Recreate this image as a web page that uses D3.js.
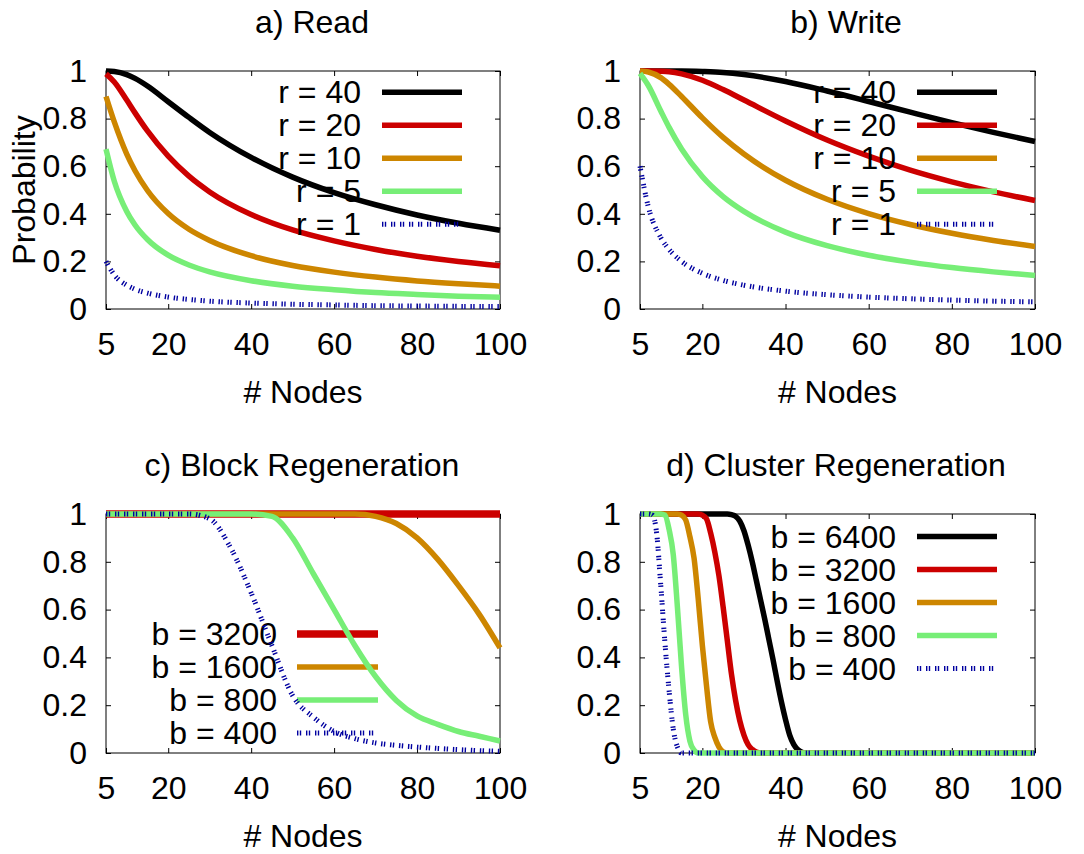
<!DOCTYPE html>
<html>
<head>
<meta charset="utf-8">
<script src="https://cdn.jsdelivr.net/npm/d3@7"></script>
<style>
  html, body { margin:0; padding:0; background:#fff; }
  svg { display:block; }
</style>
</head>
<body>
<script>
(function(){
/* ===================== DATA ===================== */
const X_TICKS = [5, 20, 40, 60, 80, 100];
const Y_TICKS = [0, 0.2, 0.4, 0.6, 0.8, 1];

// a) Read + b) Write share the node counts
const NODES_RW = [5, 7, 10, 12, 15, 20, 25, 30, 40, 50, 60, 70, 80, 90, 100];

const READ_R40 = [1.000, 0.998, 0.985, 0.969, 0.937, 0.871, 0.805, 0.742, 0.637, 0.554, 0.489, 0.438, 0.395, 0.360, 0.331];
const READ_R20 = [0.988, 0.954, 0.878, 0.824, 0.748, 0.642, 0.558, 0.492, 0.397, 0.332, 0.286, 0.250, 0.222, 0.200, 0.182];
const READ_R10 = [0.893, 0.786, 0.651, 0.581, 0.498, 0.401, 0.335, 0.288, 0.224, 0.183, 0.155, 0.134, 0.118, 0.106, 0.096];
const READ_R5  = [0.672, 0.537, 0.410, 0.353, 0.292, 0.226, 0.185, 0.156, 0.119, 0.096, 0.081, 0.069, 0.061, 0.054, 0.049];
const READ_R1  = [0.200, 0.143, 0.100, 0.083, 0.067, 0.050, 0.040, 0.033, 0.025, 0.020, 0.017, 0.014, 0.0125, 0.011, 0.010];

const WRITE_R40 = [1.000, 1.000, 1.000, 1.000, 1.000, 0.998, 0.994, 0.985, 0.956, 0.916, 0.872, 0.827, 0.783, 0.742, 0.704];
const WRITE_R20 = [1.000, 1.000, 0.999, 0.997, 0.988, 0.961, 0.922, 0.878, 0.790, 0.710, 0.642, 0.583, 0.534, 0.492, 0.456];
const WRITE_R10 = [1.000, 0.996, 0.972, 0.944, 0.893, 0.803, 0.721, 0.651, 0.541, 0.461, 0.401, 0.355, 0.318, 0.288, 0.263];
const WRITE_R5  = [0.990, 0.939, 0.832, 0.763, 0.672, 0.556, 0.472, 0.410, 0.323, 0.266, 0.226, 0.197, 0.174, 0.156, 0.141];
const WRITE_R1  = [0.600, 0.429, 0.300, 0.250, 0.200, 0.150, 0.120, 0.100, 0.075, 0.060, 0.050, 0.043, 0.0375, 0.033, 0.030];

// c) Block Regeneration
const NODES_BLOCK = [5, 10, 15, 20, 25, 30, 35, 40, 45, 50, 55, 60, 65, 70, 75, 80, 85, 90, 95, 100];
const BLOCK_B3200 = [1, 1, 1, 1, 1, 1, 1, 1, 1, 1, 1, 1, 1, 1, 1, 1, 1, 1, 1, 1];
const BLOCK_B1600 = [1, 1, 1, 1, 1, 1, 1, 1, 1, 1, 1, 1, 1, 0.99, 0.96, 0.90, 0.81, 0.70, 0.58, 0.44];
const BLOCK_B800  = [1, 1, 1, 1, 1, 1, 1, 1, 0.99, 0.90, 0.75, 0.60, 0.45, 0.32, 0.22, 0.155, 0.12, 0.09, 0.07, 0.05];
const BLOCK_B400  = [1, 1, 1, 1, 1, 0.98, 0.86, 0.67, 0.45, 0.24, 0.15, 0.09, 0.06, 0.042, 0.032, 0.025, 0.019, 0.014, 0.010, 0.007];

// d) Cluster Regeneration (each curve has its own node samples)
const CLU_N_6400 = [5, 26, 27, 28, 29, 30, 31, 32, 33, 34, 35, 36, 37, 38, 39, 40, 41, 42, 43, 44, 45, 100];
const CLU_B6400  = [1, 1, 0.997, 0.99, 0.97, 0.93, 0.87, 0.80, 0.72, 0.64, 0.56, 0.475, 0.39, 0.30, 0.215, 0.14, 0.075, 0.035, 0.013, 0.003, 0, 0];
const CLU_N_3200 = [5, 19, 20, 21, 22, 23, 24, 25, 26, 27, 28, 29, 30, 31, 32, 33, 34, 100];
const CLU_B3200  = [1, 1, 0.995, 0.98, 0.92, 0.84, 0.74, 0.61, 0.47, 0.33, 0.22, 0.135, 0.075, 0.035, 0.015, 0.004, 0, 0];
const CLU_N_1600 = [5, 14, 15, 16, 17, 18, 19, 20, 21, 22, 23, 24, 25, 26, 100];
const CLU_B1600  = [1, 1, 0.995, 0.975, 0.905, 0.815, 0.645, 0.45, 0.28, 0.13, 0.065, 0.025, 0.005, 0, 0];
const CLU_N_800  = [5, 10, 11, 12, 13, 14, 15, 16, 17, 18, 19, 100];
const CLU_B800   = [1, 1, 0.995, 0.935, 0.83, 0.61, 0.36, 0.16, 0.05, 0.012, 0, 0];
const CLU_N_400  = [5, 7, 8, 9, 10, 11, 12, 13, 14, 15, 100];
const CLU_B400   = [1, 1, 0.995, 0.92, 0.70, 0.46, 0.26, 0.10, 0.025, 0, 0];

/* ===================== STYLE ===================== */
const FONT = "'Liberation Sans', Arial, Helvetica, sans-serif";
const FS = 32;
const C = { black:"#000000", red:"#cc0000", orange:"#cd8600", green:"#77ee77", blue:"#0000a0" };

const PANELS = [
  { title:"a) Read", titleX:312, box:{l:106, r:500, t:71, b:309}, ylab:true,
    leg:{x:361, l0:382, l1:462, y0:92.3},
    series:[
      {label:"r = 40", color:C.black,  n:NODES_RW, p:READ_R40},
      {label:"r = 20", color:C.red,    n:NODES_RW, p:READ_R20},
      {label:"r = 10", color:C.orange, n:NODES_RW, p:READ_R10},
      {label:"r = 5",  color:C.green,  n:NODES_RW, p:READ_R5},
      {label:"r = 1",  color:C.blue,   n:NODES_RW, p:READ_R1, dots:true}
    ]},
  { title:"b) Write", titleX:846, box:{l:640, r:1035, t:71, b:309},
    leg:{x:896, l0:917, l1:997, y0:92.3},
    series:[
      {label:"r = 40", color:C.black,  n:NODES_RW, p:WRITE_R40},
      {label:"r = 20", color:C.red,    n:NODES_RW, p:WRITE_R20},
      {label:"r = 10", color:C.orange, n:NODES_RW, p:WRITE_R10},
      {label:"r = 5",  color:C.green,  n:NODES_RW, p:WRITE_R5},
      {label:"r = 1",  color:C.blue,   n:NODES_RW, p:WRITE_R1, dots:true}
    ]},
  { title:"c) Block Regeneration", titleX:302, box:{l:106, r:500, t:514, b:753},
    leg:{x:277, l0:297, l1:378, y0:634},
    series:[
      {label:"b = 3200", color:C.red,    n:NODES_BLOCK, p:BLOCK_B3200, w:7.5},
      {label:"b = 1600", color:C.orange, n:NODES_BLOCK, p:BLOCK_B1600},
      {label:"b = 800",  color:C.green,  n:NODES_BLOCK, p:BLOCK_B800},
      {label:"b = 400",  color:C.blue,   n:NODES_BLOCK, p:BLOCK_B400, dots:true}
    ]},
  { title:"d) Cluster Regeneration", titleX:836, box:{l:640, r:1035, t:514, b:753},
    leg:{x:896, l0:917, l1:997, y0:536.5},
    series:[
      {label:"b = 6400", color:C.black,  n:CLU_N_6400, p:CLU_B6400},
      {label:"b = 3200", color:C.red,    n:CLU_N_3200, p:CLU_B3200},
      {label:"b = 1600", color:C.orange, n:CLU_N_1600, p:CLU_B1600},
      {label:"b = 800",  color:C.green,  n:CLU_N_800,  p:CLU_B800},
      {label:"b = 400",  color:C.blue,   n:CLU_N_400,  p:CLU_B400, dots:true}
    ]}
];

/* ===================== DRAW ===================== */
const svg = d3.select("body").append("svg")
  .attr("width", 1084).attr("height", 854)
  .attr("font-family", FONT).attr("font-size", FS);

function styleAxis(sel){
  sel.select(".domain").remove();
  sel.attr("font-family", FONT).attr("font-size", FS);
  sel.selectAll(".tick line").attr("stroke", "#000").attr("stroke-width", 1);
  sel.selectAll(".tick text").attr("fill", "#000");
}

function strokeFor(s, sel){
  sel.attr("fill", "none")
     .attr("stroke", s.color)
     .attr("stroke-width", s.dots ? 5 : (s.w || 5.5));
  if (s.dots) sel.attr("stroke-dasharray", "1.4,1.4,1.4,4.8");
  return sel;
}

function drawPanel(P){
  const B = P.box;
  const x = d3.scaleLinear().domain([5, 100]).range([B.l, B.r]);
  const y = d3.scaleLinear().domain([0, 1]).range([B.b, B.t]);
  const g = svg.append("g");

  // axes, ticks pointing inward on all four sides
  g.append("g").attr("transform", `translate(0,${B.b})`)
    .call(d3.axisBottom(x).tickValues(X_TICKS).tickSizeInner(-5).tickSizeOuter(0).tickPadding(23))
    .call(styleAxis);
  g.append("g").attr("transform", `translate(0,${B.t})`)
    .call(d3.axisTop(x).tickValues(X_TICKS).tickSizeInner(-5).tickSizeOuter(0).tickFormat(""))
    .call(styleAxis);
  g.append("g").attr("transform", `translate(${B.l},0)`)
    .call(d3.axisLeft(y).tickValues(Y_TICKS).tickSizeInner(-5).tickSizeOuter(0).tickPadding(19).tickFormat(d => String(d)))
    .call(styleAxis);
  g.append("g").attr("transform", `translate(${B.r},0)`)
    .call(d3.axisRight(y).tickValues(Y_TICKS).tickSizeInner(-5).tickSizeOuter(0).tickFormat(""))
    .call(styleAxis);

  g.append("rect")
    .attr("x", B.l).attr("y", B.t)
    .attr("width", B.r - B.l).attr("height", B.b - B.t)
    .attr("fill", "none").attr("stroke", "#000").attr("stroke-width", 1);

  // titles
  g.append("text").attr("x", P.titleX).attr("y", B.t - 38)
    .attr("text-anchor", "middle").text(P.title);
  g.append("text").attr("x", (B.l + B.r) / 2).attr("y", B.b + 94)
    .attr("text-anchor", "middle").text("# Nodes");
  if (P.ylab){
    g.append("text").attr("transform", `translate(35,${(B.t + B.b) / 2}) rotate(-90)`)
      .attr("text-anchor", "middle").text("Probability");
  }

  const line = d3.line()
    .x(d => x(d[0])).y(d => y(d[1]))
    .curve(d3.curveMonotoneX);

  // key entry, then its curve (gnuplot order)
  P.series.forEach((s, i) => {
    const ry = P.leg.y0 + i * 33;
    g.append("text").attr("x", P.leg.x).attr("y", ry + 11)
      .attr("text-anchor", "end").text(s.label);
    strokeFor(s, g.append("line")
      .attr("x1", P.leg.l0).attr("x2", P.leg.l1)
      .attr("y1", ry).attr("y2", ry));
    strokeFor(s, g.append("path")
      .datum(d3.zip(s.n, s.p))
      .attr("d", line)
      .attr("stroke-linejoin", "round"));
  });
}

PANELS.forEach(drawPanel);
})();
</script>
</body>
</html>
